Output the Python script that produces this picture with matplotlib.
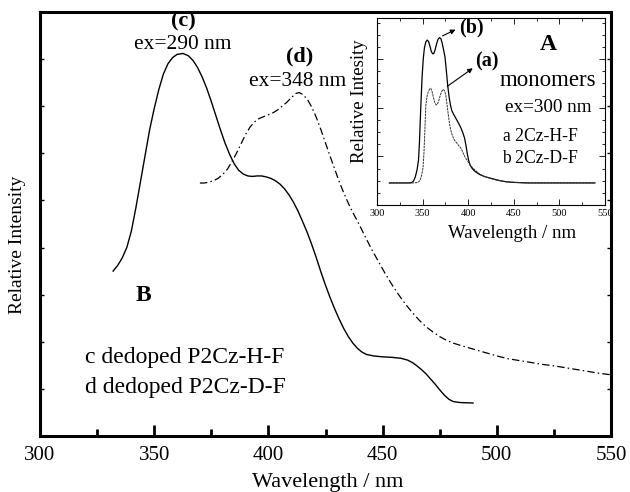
import matplotlib
matplotlib.use("Agg")
import matplotlib.pyplot as plt
from matplotlib.ticker import MultipleLocator, NullFormatter

plt.rcParams['font.family'] = ['Liberation Serif', 'DejaVu Serif']

# ---- main panel B data ----
c_wl = [332.0, 334, 336, 338, 340, 342, 344, 346, 348, 350, 352, 354, 356, 358, 360,
        362.6, 365, 367, 369, 371, 373, 375, 377, 379, 381, 383, 385, 387, 389, 391,
        393, 395, 397, 399, 401, 403, 405, 407, 409, 411, 413, 415, 417, 419, 421,
        423, 425, 427, 429, 431, 433, 435, 437, 439, 441, 443, 446, 450, 454, 458,
        461, 463, 465, 467, 469, 471, 473, 475, 477, 479, 481, 484, 489.6]
c_int = [3.50, 3.62, 3.78, 4.00, 4.35, 4.85, 5.40, 5.95, 6.50, 6.95, 7.35, 7.68, 7.90, 8.03, 8.10,
         8.12, 8.07, 7.97, 7.82, 7.62, 7.38, 7.10, 6.80, 6.50, 6.22, 5.98, 5.78, 5.64, 5.56, 5.52,
         5.51, 5.52, 5.52, 5.50, 5.47, 5.42, 5.35, 5.25, 5.12, 4.96, 4.77, 4.55, 4.32, 4.06, 3.78,
         3.48, 3.20, 2.94, 2.70, 2.48, 2.28, 2.11, 1.97, 1.86, 1.78, 1.73, 1.70, 1.68, 1.67, 1.65,
         1.61, 1.56, 1.49, 1.41, 1.32, 1.21, 1.10, 0.98, 0.87, 0.78, 0.73, 0.71, 0.70]

d_wl = [370, 372, 374, 376, 378, 380, 382, 384, 386, 388, 390, 392, 394, 396, 398,
        400, 402, 404, 406, 408, 410, 412, 413.5, 415, 417, 419, 421, 423, 425, 427,
        429, 431, 433, 435, 437, 439, 442, 445, 448, 451, 454, 457, 460, 463, 466,
        469, 472, 475, 478, 481, 485, 490, 495, 500, 505, 510, 515, 520, 525, 530,
        535, 540, 545, 550]
d_int = [5.37, 5.37, 5.39, 5.42, 5.47, 5.55, 5.66, 5.82, 6.00, 6.20, 6.40, 6.56, 6.67, 6.74, 6.78,
         6.82, 6.86, 6.92, 7.00, 7.08, 7.18, 7.27, 7.29, 7.25, 7.15, 6.98, 6.76, 6.50, 6.22, 5.94,
         5.67, 5.40, 5.16, 4.94, 4.74, 4.56, 4.27, 3.98, 3.72, 3.46, 3.22, 3.00, 2.80, 2.62, 2.46,
         2.32, 2.21, 2.11, 2.03, 1.97, 1.91, 1.84, 1.77, 1.70, 1.64, 1.60, 1.56, 1.52, 1.49, 1.45,
         1.41, 1.37, 1.33, 1.30]

# ---- inset panel A data ----
b_wl = [313.5, 336, 338, 340, 342, 344, 345.5, 346.5, 347.5, 348.5, 349.5, 350.8, 352, 353.5, 355,
        356.5, 358, 359.5, 361, 362.5, 364, 365.5, 367, 368.5, 370, 371.5, 373, 374.6, 376,
        377.5, 379, 380.5, 382, 384, 386, 388, 390, 392, 394, 396, 397.5, 399, 400.5, 402,
        404, 406, 409, 413, 418, 424, 430, 436, 442, 450, 464, 539]
b_int = [1.18, 1.18, 1.20, 1.28, 1.50, 1.90, 2.40, 3.30, 4.60, 5.80, 6.90, 7.86, 8.40, 8.72, 8.82,
         8.75, 8.50, 8.22, 8.08, 8.12, 8.35, 8.65, 8.87, 8.95, 8.90, 8.65, 8.30, 7.90, 7.20,
         6.40, 5.80, 5.35, 5.05, 4.85, 4.68, 4.50, 4.32, 4.12, 3.88, 3.58, 3.20, 2.75, 2.38, 2.15,
         1.98, 1.86, 1.74, 1.62, 1.52, 1.44, 1.36, 1.29, 1.24, 1.21, 1.18, 1.18]

a_wl = [313.5, 340, 344, 346, 347.5, 349, 350.5, 351.5, 352.5, 353.5, 355, 356.5, 358, 359,
        360.5, 362, 363.5, 365, 366.5, 368, 369.5, 371, 372.5, 374, 375.5, 377, 378.5, 380,
        382, 384, 386, 388, 390, 391.5, 393, 395, 397, 399.5, 402, 405, 409, 413, 418, 424,
        430, 436, 442, 450, 464, 539]
a_int = [1.18, 1.18, 1.20, 1.25, 1.35, 1.60, 2.00, 2.80, 4.00, 5.30, 5.85, 6.10, 6.22, 6.24,
         6.05, 5.72, 5.45, 5.35, 5.42, 5.62, 5.88, 6.08, 6.18, 6.12, 5.85, 5.30, 4.70, 4.19,
         3.80, 3.55, 3.40, 3.28, 3.15, 3.08, 2.95, 2.72, 2.52, 2.35, 2.14, 1.98, 1.80, 1.64, 1.52, 1.42,
         1.35, 1.29, 1.24, 1.21, 1.18, 1.18]

main_xticks = [300, 350, 400, 450, 500, 550]

fig = plt.figure(figsize=(6.3, 4.92), dpi=100)
W, H = 630.0, 492.0

def fx(px):
    return px / W

def fy(py):
    return 1 - py / H

ax = fig.add_axes([fx(40), fy(436), fx(611) - fx(40), fy(12) - fy(436)])
ax.plot(c_wl, c_int, color='black', lw=1.0)
ax.plot(d_wl, d_int, color='black', lw=0.9, linestyle=(0, (6, 2.5, 1.2, 2.5)))
ax.set_xlim(300, 550)
ax.set_ylim(0, 9)
ax.set_xticks(main_xticks)
ax.xaxis.set_minor_locator(MultipleLocator(25))
ax.yaxis.set_major_locator(MultipleLocator(1))
ax.yaxis.set_major_formatter(NullFormatter())
ax.tick_params(axis='x', which='major', direction='in', length=8, width=2.0,
               labelsize=15, top=False, pad=7)
ax.tick_params(axis='x', which='minor', direction='in', length=5, width=2.0, top=False)
ax.tick_params(axis='y', which='major', direction='in', length=3, width=1.0,
               left=True, right=True)
for s in ax.spines.values():
    s.set_linewidth(2.2)

fig.text(fx(18), fy(245), 'Relative Intensity', rotation=90, ha='center', va='center', fontsize=14)
fig.text(fx(328), fy(483), 'Wavelength / nm', ha='center', va='center', fontsize=16)

ax.text(362.6, 8.79, '(c)', ha='center', va='center', fontsize=16, fontweight='bold')
ax.text(362.6, 8.30, 'ex=290 nm', ha='center', va='center', fontsize=15.4)
ax.text(413.8, 8.05, '(d)', ha='center', va='center', fontsize=16, fontweight='bold')
ax.text(413.0, 7.52, 'ex=348 nm', ha='center', va='center', fontsize=15.4)
ax.text(345.1, 2.99, 'B', ha='center', va='center', fontsize=17, fontweight='bold')
ax.text(319.7, 1.66, 'c dedoped P2Cz-H-F', ha='left', va='center', fontsize=17)
ax.text(319.7, 1.04, 'd dedoped P2Cz-D-F', ha='left', va='center', fontsize=17)

# ---- inset ----
ins = fig.add_axes([fx(377), fy(205), fx(605) - fx(377), fy(18) - fy(205)])
ins.plot(b_wl, b_int, color='black', lw=0.9)
ins.plot(a_wl, a_int, color='#333333', lw=0.7, linestyle=(0, (2.5, 0.8)))
ins.set_xlim(300, 550)
ins.set_ylim(0, 10)
ins.set_xticks(main_xticks)
ins.xaxis.set_minor_locator(MultipleLocator(25))
ins.yaxis.set_major_locator(MultipleLocator(2.6))
ins.yaxis.set_minor_locator(MultipleLocator(0.65))
ins.yaxis.set_major_formatter(NullFormatter())
ins.tick_params(which='both', direction='in', top=True, right=True, width=0.6)
ins.tick_params(which='major', length=4, labelsize=7.5, pad=3)
ins.tick_params(which='minor', length=2)
for s in ins.spines.values():
    s.set_linewidth(0.8)

fig.text(fx(360), fy(101), 'Relative Intesity', rotation=90, ha='center', va='center', fontsize=13.5)
fig.text(fx(512), fy(233), 'Wavelength / nm', ha='center', va='center', fontsize=13.5)

ins.annotate('', xy=(388.8, 9.44), xytext=(369.1, 8.98),
             arrowprops=dict(arrowstyle='-|>', color='black', lw=0.8, mutation_scale=7))
ins.annotate('', xy=(407.5, 7.40), xytext=(374.6, 6.26),
             arrowprops=dict(arrowstyle='-|>', color='black', lw=0.8, mutation_scale=7))
ins.text(403.8, 9.47, '(b)', ha='center', va='center', fontsize=14.5, fontweight='bold')
ins.text(420.3, 7.65, '(a)', ha='center', va='center', fontsize=14.5, fontweight='bold')
ins.text(487.5, 8.56, 'A', ha='center', va='center', fontsize=17, fontweight='bold')
ins.text(487.5, 6.68, 'monomers', ha='center', va='center', fontsize=16.5)
ins.text(487.5, 5.24, 'ex=300 nm', ha='center', va='center', fontsize=13.8)
ins.text(478.7, 3.64, 'a 2Cz-H-F', ha='center', va='center', fontsize=12.7)
ins.text(478.7, 2.51, 'b 2Cz-D-F', ha='center', va='center', fontsize=12.7)

fig.savefig('out.png', dpi=100)
